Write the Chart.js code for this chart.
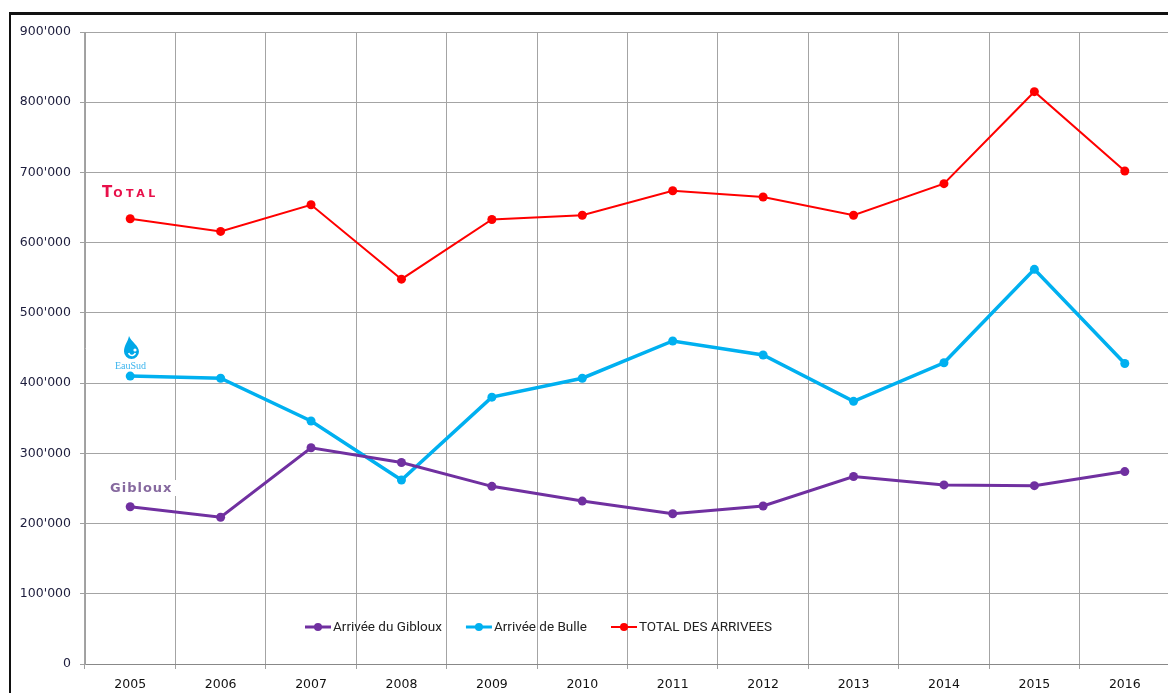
<!DOCTYPE html>
<html>
<head>
<meta charset="utf-8">
<script src="https://cdn.jsdelivr.net/npm/chart.js@4/dist/chart.umd.min.js"></script>
<style>
html,body{margin:0;padding:0;overflow:hidden;background:#fff;width:1168px;height:693px;}
#frame{position:absolute;left:9px;top:12px;width:1300px;height:800px;border-left:2px solid #111;border-top:3px solid #111;}
#wrap{position:absolute;left:0;top:0;width:1180px;height:693px;}
</style>
</head>
<body>
<div id="frame"></div>
<div id="wrap"><canvas id="c" width="1180" height="693"></canvas></div>
<script>
const years = ['2005','2006','2007','2008','2009','2010','2011','2012','2013','2014','2015','2016'];
const gibloux = [224000,209000,308000,287000,253000,232000,214000,225000,267000,255000,254000,274000];
const bulle   = [410000,407000,346000,262000,380000,407000,460000,440000,374000,429000,562000,428000];
const total   = [634000,616000,654000,548000,633000,639000,674000,665000,639000,684000,815000,702000];
const seriesLabels = ['Arrivée du Gibloux','Arrivée de Bulle','TOTAL DES ARRIVEES'];
const seriesColors = ['#7030a0','#00b0f0','#ff0000'];
const yMin = 0, yMax = 900000, yStep = 100000;

function fmt(v){ return v === 0 ? '0' : String(v).replace(/\B(?=(\d{3})+(?!\d))/g, "'"); }

const legendPlugin = {
  id: 'inLegend',
  afterDraw(chart){
    const ctx = chart.ctx;
    ctx.save();
    ctx.font = '13.5px Roboto, "Liberation Sans", Arial, sans-serif';
    ctx.textBaseline = 'middle';
    let x = 305; const y = 627;
    chart.data.datasets.forEach((ds, i) => {
      ctx.strokeStyle = ds.borderColor; ctx.fillStyle = ds.borderColor;
      ctx.lineWidth = i === 2 ? 2 : 3;
      ctx.beginPath(); ctx.moveTo(x, y); ctx.lineTo(x + 26, y); ctx.stroke();
      ctx.beginPath(); ctx.arc(x + 13, y, 4, 0, Math.PI*2); ctx.fill();
      ctx.fillStyle = '#222';
      ctx.fillText(ds.label, x + 28, y + 1);
      x += 28 + ctx.measureText(ds.label).width + 24;
    });
    ctx.restore();
  }
};

const logoPlugin = {
  id: 'logos',
  afterDraw(chart){
    const ctx = chart.ctx;
    ctx.save();
    // TOTAL
    ctx.fillStyle = '#e8104a';
    ctx.textBaseline = 'alphabetic';
    ctx.font = 'bold 15px "DejaVu Sans", sans-serif';
    ctx.fillText('T', 102, 197);
    let tw = ctx.measureText('T').width;
    ctx.font = 'bold 11px "DejaVu Sans", sans-serif';
    ctx.letterSpacing = '3.5px';
    ctx.fillText('OTAL', 102 + tw + 1, 197);
    ctx.letterSpacing = '0px';
    // EauSud drop
    ctx.fillStyle = '#00a8e8';
    ctx.beginPath();
    ctx.moveTo(129, 336);
    ctx.bezierCurveTo(131, 342, 139, 345, 139, 352);
    ctx.arc(131.5, 351.5, 7.5, 0, Math.PI, false);
    ctx.bezierCurveTo(124, 345, 128, 342, 129, 336);
    ctx.fill();
    ctx.strokeStyle = '#fff'; ctx.lineWidth = 1.6;
    ctx.beginPath(); ctx.arc(132, 352, 3.5, Math.PI*0.9, Math.PI*2.1, true); ctx.stroke();
    ctx.fillStyle = '#fff';
    ctx.beginPath(); ctx.arc(135, 350, 1.6, 0, Math.PI*2); ctx.fill();
    ctx.fillStyle = '#3ab4ee';
    ctx.font = '10px "Liberation Serif", serif';
    ctx.textBaseline = 'middle';
    ctx.fillText('EauSud', 115, 366);
    // Gibloux
    ctx.fillStyle = '#fff';
    ctx.fillRect(106, 480, 72, 16);
    ctx.fillStyle = '#86699f';
    ctx.font = 'bold 13px "DejaVu Sans", sans-serif';
    ctx.letterSpacing = '1px';
    ctx.fillText('Gibloux', 110, 489);
    ctx.restore();
  }
};

const mk = (label, data, color, bw, pr) => ({
  label, data, borderColor: color, backgroundColor: color,
  borderWidth: bw, pointRadius: pr, pointHoverRadius: pr,
  pointBackgroundColor: color, pointBorderColor: color, pointBorderWidth: 0,
  tension: 0, fill: false
});

new Chart(document.getElementById('c'), {
  type: 'line',
  data: {
    labels: years,
    datasets: [
      mk(seriesLabels[0], gibloux, seriesColors[0], 3, 4.5),
      mk(seriesLabels[1], bulle, seriesColors[1], 3.5, 4.5),
      mk(seriesLabels[2], total, seriesColors[2], 2, 4.5)
    ]
  },
  options: {
    responsive: false,
    animation: false,
    layout: { padding: { top: 32, right: 10, left: 0, bottom: 0 } },
    plugins: { legend: { display: false }, tooltip: { enabled: false } },
    scales: {
      x: {
        type: 'category',
        offset: true,
        grid: { offset: true, color: '#a4a4a4', lineWidth: 1, tickLength: 5, drawTicks: true, tickColor: '#a0a0a0' },
        border: { color: '#888', width: 1 },
        ticks: { color: '#111', font: { family: '"DejaVu Sans", Verdana, sans-serif', size: 12.5 }, padding: 8, maxRotation: 0, autoSkip: false },
        afterFit(s){ s.height = 29; }
      },
      y: {
        min: yMin, max: yMax,
        grid: { color: '#a4a4a4', lineWidth: 1, tickLength: 5, tickColor: '#a0a0a0' },
        border: { color: '#a0a0a0', width: 1 },
        ticks: { stepSize: yStep, color: '#1c1c3c', font: { family: '"DejaVu Sans", Verdana, sans-serif', size: 12.5 }, padding: 9, callback: v => fmt(v) },
        afterFit(s){ s.width = 85; }
      }
    }
  },
  plugins: [legendPlugin, logoPlugin]
});
</script>
</body>
</html>
